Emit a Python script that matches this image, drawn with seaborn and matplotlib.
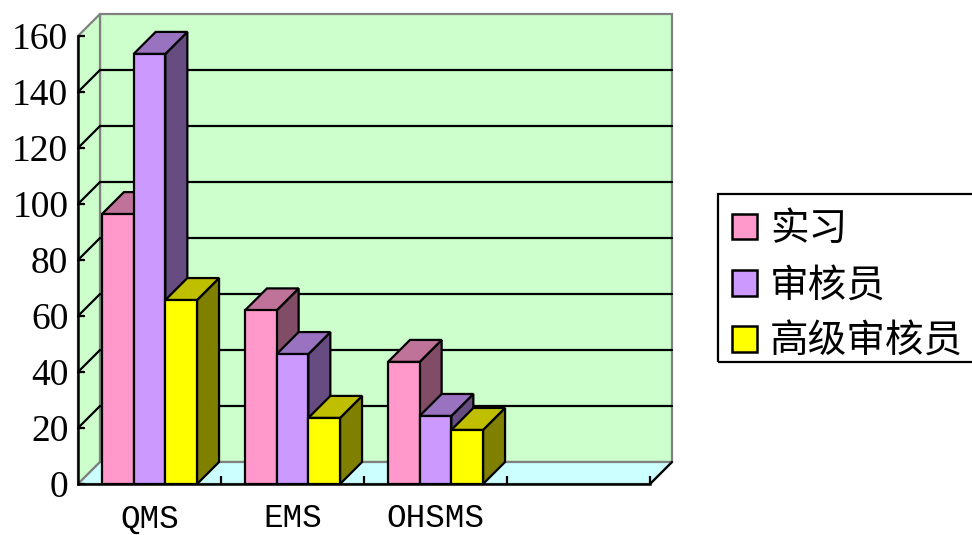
import seaborn as sns
import pandas as pd
import matplotlib.pyplot as plt
from matplotlib.patches import Polygon, Rectangle

# values
categories = ["QMS", "EMS", "OHSMS"]
empty_slot = " "
series_names = ["实习", "审核员", "高级审核员"]
intern = [96.4, 62, 43.6]
auditor = [153.6, 46.4, 24.3]
senior = [65.7, 23.6, 19.3]
y_ticks = [0, 20, 40, 60, 80, 100, 120, 140, 160]

front_colors = ["#FF99CC", "#CC99FF", "#FFFF00"]
top_colors = ["#C07399", "#9A73C0", "#BFBF00"]
side_colors = ["#804C66", "#664C80", "#808000"]

rows = []
for name, vals in zip(series_names, [intern, auditor, senior]):
    for c, v in zip(categories, vals):
        rows.append({"cat": c, "series": name, "value": v})
df = pd.DataFrame(rows)

sns.set_theme(style="white")
plt.rcParams["font.family"] = ["Noto Sans CJK SC", "DejaVu Sans"]

fig = plt.figure(figsize=(9.72, 5.35), dpi=100)
ax = fig.add_axes([78 / 972, 1 - 484 / 535, (650 - 78) / 972, (484 - 36) / 535])

line_w = 1.6
sns.barplot(data=df, x="cat", y="value", hue="series", order=categories + [empty_slot],
            hue_order=series_names, palette=front_colors, width=0.665, gap=0,
            saturation=1, edgecolor="black", linewidth=line_w, ax=ax)

ax.set_xlim(-0.5, 3.5)
ax.set_ylim(0, 160)
ax.patch.set_visible(False)

# depth of the fake 3D box, in data units (22 px each way)
dx = 22 / 143
dy = 22 / 2.8


def face(points, color, z, edge="black", lw=line_w):
    ax.add_patch(Polygon(points, closed=True, facecolor=color, edgecolor=edge,
                         linewidth=lw, zorder=z, clip_on=False, joinstyle="miter"))


# walls and floor
x0, x1 = -0.5, 3.5
face([(x0 + dx, dy), (x1 + dx, dy), (x1 + dx, 160 + dy), (x0 + dx, 160 + dy)], "#CCFFCC", 0.1, "#808080", 1.6)
face([(x0, 0), (x0 + dx, dy), (x0 + dx, 160 + dy), (x0, 160)], "#CCFFCC", 0.2, "#808080", 1.6)
face([(x0, 0), (x1, 0), (x1 + dx, dy), (x0 + dx, dy)], "#CCFFFF", 0.3, "#808080", 1.6)

for t in y_ticks[1:-1]:
    ax.plot([x0 + dx, x1 + dx], [t + dy, t + dy], color="black", lw=line_w, zorder=0.5, clip_on=False)
    ax.plot([x0, x0 + dx], [t, t + dy], color="black", lw=line_w, zorder=0.5, clip_on=False)
ax.plot([x1, x1 + dx], [0, dy], color="black", lw=line_w, zorder=0.5, clip_on=False)

# bars, left to right so each one hides the side of the previous
for s, cont in enumerate(ax.containers):
    for bar in cont:
        if bar.get_height() != bar.get_height():
            continue
        left = bar.get_x()
        right = left + bar.get_width()
        h = bar.get_height()
        z = 1 + left
        bar.set_zorder(z + 0.3)
        bar.set_joinstyle("miter")
        face([(right, 0), (right + dx, dy), (right + dx, h + dy), (right, h)], side_colors[s], z + 0.1)
        face([(left, h), (right, h), (right + dx, h + dy), (left + dx, h + dy)], top_colors[s], z + 0.2)

ax.set_xlabel("")
ax.set_ylabel("")
sns.despine(ax=ax)
for side in ["left", "bottom"]:
    ax.spines[side].set_color("black")
    ax.spines[side].set_linewidth(1.8)
    ax.spines[side].set_zorder(6)

ax.set_yticks(y_ticks)
ax.set_yticklabels([str(t) for t in y_ticks], family="Liberation Serif", fontsize=27, color="black")
ax.tick_params(axis="y", direction="in", length=5, width=line_w, color="black", left=True, pad=7)
ax.set_xticks([0, 1, 2])
ax.set_xticklabels(categories, family="Liberation Mono", fontsize=23.5, color="black")
ax.tick_params(axis="x", length=0, bottom=False, pad=14)
ax.set_xticks([0.5, 1.5, 2.5, 3.5], minor=True)
ax.tick_params(axis="x", which="minor", direction="in", length=6, width=line_w, color="black", bottom=True)

handles = ax.get_legend().legend_handles
leg = ax.legend(handles, series_names, loc="upper left", bbox_to_anchor=(732 / 972, 1 - 209 / 535),
                bbox_transform=fig.transFigure, borderaxespad=0, prop={"size": 27.8},
                handlelength=0.65, handleheight=0.65, handletextpad=0.33, labelspacing=0.42,
                borderpad=0, frameon=False, labelcolor="black")
for h in leg.legend_handles:
    h.set_linewidth(1.8)

# legend box runs off the right edge of the picture
fig.add_artist(Rectangle((718 / 972, 1 - 362 / 535), 260 / 972, 168 / 535, transform=fig.transFigure,
                         facecolor="none", edgecolor="black", linewidth=1.6))

fig.savefig("out.png", dpi=100)
